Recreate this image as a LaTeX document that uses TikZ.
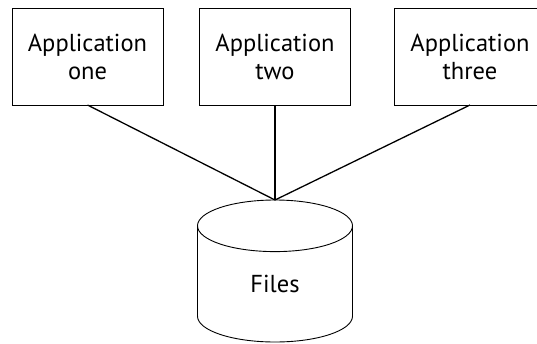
\documentclass[tikz,border=0pt]{standalone}
\usepackage{fontspec}
\setmainfont{PT Sans}
\usetikzlibrary{shapes.geometric,positioning}

\begin{document}
\begin{tikzpicture}[x=1pt,y=-1pt,
  appbox/.style={draw,line width=0.9pt,minimum width=151pt,minimum height=97pt,
    inner sep=0pt,outer sep=0pt,align=center,font=\fontsize{24.5}{28}\selectfont},
  filesdb/.style={cylinder,shape border rotate=90,draw,line width=0.9pt,aspect=1.05,
    minimum width=155pt,minimum height=142pt,inner sep=0pt,outer sep=0pt,
    font=\fontsize{24.5}{28}\selectfont},
  link/.style={line width=1.3pt}]

%Page frame
\useasboundingbox (0,0) rectangle (537,343);

%Applications
\node [appbox] (app1) at (87.5,56.5) {Application\\one};
\node [appbox] (app2) at (275,56.5) {Application\\two};
\node [appbox] (app3) at (470,56.5) {Application\\three};

%Shared files
\node [filesdb,anchor=top] (files) at (275,200) {Files};

%Links to the files
\draw [link] (app1.south) -- (files.top);
\draw [link] (app2.south) -- (files.top);
\draw [link] (app3.south) -- (files.top);
\end{tikzpicture}
\end{document}
